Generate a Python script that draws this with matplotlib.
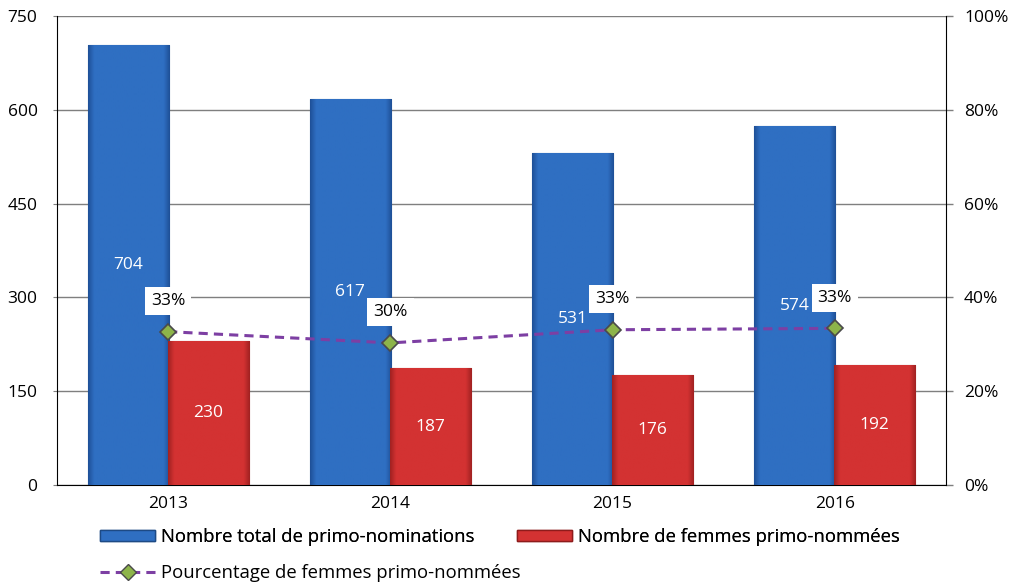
import matplotlib
matplotlib.use("Agg")
import matplotlib.pyplot as plt
import numpy as np
from matplotlib.lines import Line2D
from matplotlib.patches import Patch

plt.rcParams['font.family'] = ['Open Sans', 'DejaVu Sans']

years = ['2013', '2014', '2015', '2016']
total = [704, 617, 531, 574]
women = [230, 187, 176, 192]
pct = [32.7, 30.3, 33.1, 33.4]
pct_labels = ['33%', '30%', '33%', '33%']

fig = plt.figure(figsize=(10.21, 5.84), dpi=100)
ax = fig.add_axes([0.0558, 0.1695, 0.8707, 0.8031])
ax2 = ax.twinx()

x = np.arange(len(years))
w = 0.365
off = 0.18

blue = '#2f6fc2'
red = '#d33232'

def shade(bars, light, dark):
    cmap = matplotlib.colors.LinearSegmentedColormap.from_list('c', [dark, light])
    for b in bars:
        x0, y0 = b.get_x(), b.get_y()
        bw, bh = b.get_width(), b.get_height()
        t = np.linspace(0, 1, 80)
        prof = 1 - np.abs(t - 0.5) * 2
        prof = np.clip(prof * 7, 0, 1)
        img = ax.imshow(prof[None, :], cmap=cmap, vmin=0, vmax=1, aspect='auto',
                        extent=[x0, x0 + bw, y0, y0 + bh], zorder=b.get_zorder() + 0.1,
                        interpolation='bilinear')
        img.set_clip_path(b)

bars1 = ax.bar(x - off, total, w, color=blue, edgecolor='#1d4a85', linewidth=0.8, zorder=3)
bars2 = ax.bar(x + off, women, w, color=red, edgecolor='#8e1b1b', linewidth=0.8, zorder=3)
shade(bars1, blue, '#1f5199')
shade(bars2, red, '#a32222')

ax.set_xlim(-0.5, 3.5)
ax.set_ylim(0, 750)
ax.set_yticks([0, 150, 300, 450, 600, 750])
ax.set_xticks(x)
ax.set_xticklabels(years)
ax.yaxis.grid(True, color='#7f7f7f', linewidth=1.0, zorder=0)
ax.set_axisbelow(True)
ax.tick_params(axis='x', length=0, labelsize=12.5, pad=8)
ax.tick_params(axis='y', length=3, color='#7f7f7f', labelsize=12.5, pad=11)
ax.spines['top'].set_visible(False)
ax.spines['left'].set_color('black')
ax.spines['bottom'].set_color('black')
ax.spines['right'].set_visible(False)

for i in range(len(years)):
    ax.text(x[i] - off, total[i] / 2, str(total[i]), ha='center', va='center',
            color='white', fontsize=12.5, zorder=6)
    ax.text(x[i] + off, women[i] / 2, str(women[i]), ha='center', va='center',
            color='white', fontsize=12.5, zorder=6)

ax2.set_ylim(0, 100)
ax2.set_yticks([0, 20, 40, 60, 80, 100])
ax2.set_yticklabels([f'{v}%' for v in [0, 20, 40, 60, 80, 100]])
ax2.tick_params(axis='y', length=5, width=1, color='#7f7f7f', labelsize=12.5, pad=8)
for s in ['top', 'left', 'bottom']:
    ax2.spines[s].set_visible(False)
ax2.spines['right'].set_color('black')

ax2.plot(x, pct, color='#7d3fa3', linestyle=(0, (3, 2)), linewidth=2.2,
         marker='D', markersize=8, markerfacecolor='#8db44a', markeredgecolor='#4a4a4a',
         markeredgewidth=1.2, zorder=5)
for i in range(len(years)):
    ax2.annotate(pct_labels[i], (x[i], pct[i]), xytext=(0, 22), textcoords='offset points',
                 ha='center', va='center', fontsize=12.5, color='black', zorder=7,
                 bbox=dict(boxstyle='square,pad=0.35', facecolor='white', edgecolor='none'))

h_bars = [
    Patch(facecolor=blue, edgecolor='#1d4a85', label='Nombre total de primo-nominations'),
    Patch(facecolor=red, edgecolor='#8e1b1b', label='Nombre de femmes primo-nommées'),
]
h_line = [
    Line2D([0], [0], color='#7d3fa3', linestyle=(0, (3, 2)), linewidth=2.2, marker='D',
           markersize=8, markerfacecolor='#8db44a', markeredgecolor='#4a4a4a',
           label='Pourcentage de femmes primo-nommées'),
]
common = dict(frameon=False, fontsize=13.3, handlelength=3.0, handleheight=0.55,
              handletextpad=0.3, borderaxespad=0, borderpad=0)
leg1 = fig.legend(handles=h_bars, ncol=2, loc='center left', bbox_to_anchor=(0.098, 0.0805),
                  columnspacing=2.3, **common)
fig.add_artist(leg1)
fig.legend(handles=h_line, ncol=1, loc='center left', bbox_to_anchor=(0.098, 0.019), **common)

fig.savefig('out.png', dpi=100)
